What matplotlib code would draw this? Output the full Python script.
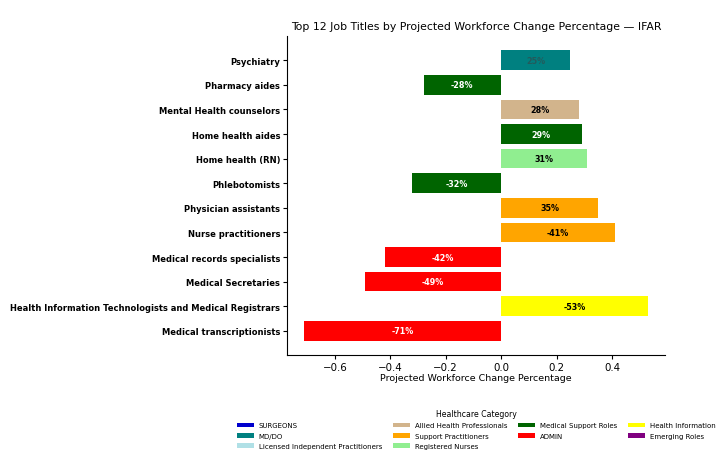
import matplotlib.pyplot as plt
from matplotlib.patches import Patch

# Job titles, top to bottom as shown
jobs = [
    "Psychiatry",
    "Pharmacy aides",
    "Mental Health counselors",
    "Home health aides",
    "Home health (RN)",
    "Phlebotomists",
    "Physician assistants",
    "Nurse practitioners",
    "Medical records specialists",
    "Medical Secretaries",
    "Health Information Technologists and Medical Registrars",
    "Medical transcriptionists",
]
changes = [0.25, -0.28, 0.28, 0.29, 0.31, -0.32, 0.35, 0.41, -0.42, -0.49, 0.53, -0.71]
bar_labels = ["25%", "-28%", "28%", "29%", "31%", "-32%", "35%", "-41%", "-42%", "-49%", "-53%", "-71%"]
bar_colors = ["teal", "darkgreen", "tan", "darkgreen", "lightgreen", "darkgreen",
              "orange", "orange", "red", "red", "yellow", "red"]
label_colors = ["#245a5b", "white", "black", "white", "black", "white",
                "black", "black", "white", "white", "black", "white"]

categories = ["SURGEONS", "MD/DO", "Licensed Independent Practitioners",
              "Allied Health Professionals", "Support Practitioners", "Registered Nurses",
              "Medical Support Roles", "ADMIN",
              "Health Information", "Emerging Roles"]
category_colors = ["mediumblue", "teal", "powderblue",
                   "tan", "orange", "lightgreen",
                   "darkgreen", "red",
                   "yellow", "purple"]

fig = plt.figure(figsize=(7.27, 4.56), dpi=100)
ax = fig.add_axes([0.395, 0.219, 0.52, 0.70])

ypos = list(range(len(jobs)))
ax.barh(ypos, changes, height=0.8, color=bar_colors)
ax.invert_yaxis()

for y, v, lab, c in zip(ypos, changes, bar_labels, label_colors):
    ax.text(v / 2, y, lab, ha="center", va="center", fontsize=5.8,
            fontweight="bold", color=c)

ax.set_yticks(ypos)
ax.set_yticklabels(jobs, fontsize=6.0, fontweight="bold")
ax.tick_params(axis="y", pad=2, length=3)
ax.tick_params(axis="x", labelsize=7.4, pad=2, length=3)
ax.set_xlabel("Projected Workforce Change Percentage", fontsize=6.8, labelpad=1)
ax.set_title("Top 12 Job Titles by Projected Workforce Change Percentage — IFAR",
             fontsize=7.8, pad=5)
ax.spines["top"].set_visible(False)
ax.spines["right"].set_visible(False)

handles = [Patch(facecolor=c, label=n) for n, c in zip(categories, category_colors)]
leg = ax.legend(handles=handles, title="Healthcare Category", loc="upper center",
                bbox_to_anchor=(0.5, -0.15), ncol=4, frameon=False,
                fontsize=5.0, title_fontsize=5.6, handlelength=2.4, handleheight=0.7,
                columnspacing=1.6, labelspacing=0.6, handletextpad=0.7)

fig.savefig("out.png", dpi=100)
